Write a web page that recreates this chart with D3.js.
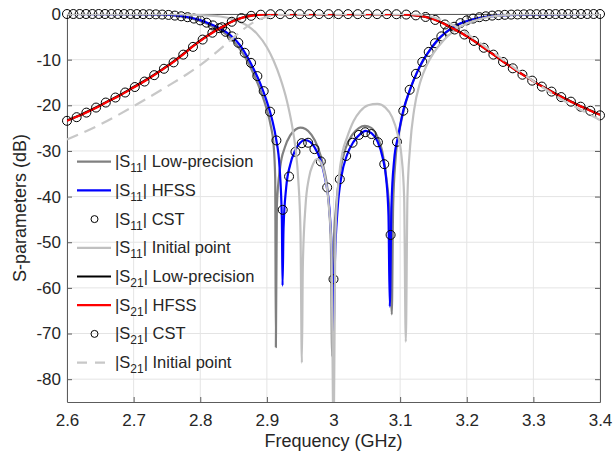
<!DOCTYPE html>
<html>
<head>
<meta charset="utf-8">
<script src="https://d3js.org/d3.v7.min.js"></script>
<style>
  body { margin: 0; background: #fff; }
  text { font-family: "Liberation Sans", Arial, Helvetica, sans-serif; fill: #262626; }
</style>
</head>
<body>
<div id="chart"></div>
<script>
/* S-parameter comparison, 2.6 - 3.4 GHz */

var xTicks = [2.6, 2.7, 2.8, 2.9, 3.0, 3.1, 3.2, 3.3, 3.4];
var yTicks = [0, -10, -20, -30, -40, -50, -60, -70, -80];

// |S11| curves as [GHz, dB]
var s11Low = [[2.6,0],[2.7,-0.03],[2.74,-0.1],[2.76,-0.3],[2.78,-0.75],[2.8,-1.55],[2.815,-2.5],[2.83,-3.6],
  [2.845,-5.2],[2.86,-7.8],[2.87,-10.1],[2.88,-13.1],[2.89,-16.6],[2.9,-21.0],[2.906,-24.6],[2.91,-28.5],
  [2.9125,-36],[2.9135,-73],[2.915,-42],[2.92,-33.5],[2.927,-29.2],[2.935,-26.6],[2.943,-25.3],[2.95,-24.9],
  [2.958,-25.2],[2.967,-26.5],[2.976,-29],[2.985,-33.5],[2.992,-40],[2.996,-50],[2.998,-75],[3.0,-52],
  [3.004,-42],[3.01,-34.5],[3.018,-29.5],[3.028,-26.5],[3.038,-25],[3.047,-24.5],[3.056,-24.9],[3.065,-26.6],
  [3.073,-30],[3.079,-35.5],[3.0845,-45],[3.0875,-65.8],[3.0895,-42],[3.093,-32],[3.099,-25.5],[3.107,-20.2],
  [3.117,-15.7],[3.127,-12.3],[3.137,-9.6],[3.147,-7.5],[3.162,-4.9],[3.177,-3.2],[3.192,-2.0],[3.21,-1.1],
  [3.23,-0.55],[3.26,-0.22],[3.3,-0.07],[3.4,0]];

var s11Hfss = [[2.6,0],[2.7,-0.02],[2.74,-0.08],[2.76,-0.25],[2.78,-0.65],[2.8,-1.35],[2.815,-2.2],[2.83,-3.2],
  [2.845,-4.6],[2.86,-6.9],[2.87,-9.2],[2.88,-12.0],[2.89,-15.2],[2.9,-19.2],[2.908,-23.2],[2.914,-27.5],
  [2.919,-33.5],[2.9225,-45],[2.9235,-59.5],[2.925,-47],[2.929,-38],[2.935,-33],[2.942,-30.0],[2.95,-28.2],
  [2.957,-27.6],[2.965,-28.0],[2.972,-29.3],[2.98,-31.8],[2.988,-36.5],[2.994,-43],[2.998,-55],[3.0,-72],
  [3.002,-55],[3.006,-43],[3.012,-35.5],[3.02,-31.0],[3.03,-28.0],[3.04,-26.3],[3.048,-25.6],[3.057,-26.1],
  [3.066,-27.9],[3.074,-31.6],[3.079,-36],[3.0825,-44],[3.0845,-64.1],[3.087,-42],[3.091,-32],[3.097,-26.8],
  [3.105,-21.0],[3.115,-16.5],[3.125,-12.9],[3.135,-10.0],[3.145,-7.8],[3.16,-5.1],[3.175,-3.3],[3.19,-2.1],
  [3.21,-1.15],[3.23,-0.6],[3.26,-0.25],[3.3,-0.08],[3.4,0]];

var s11Init = [[2.6,0],[2.75,-0.05],[2.8,-0.25],[2.83,-0.55],[2.845,-0.95],[2.87,-2.5],[2.885,-4.3],[2.9,-7.3],
  [2.91,-10.2],[2.92,-14],[2.93,-19],[2.937,-23.8],[2.943,-29.5],[2.947,-36],[2.9505,-48],[2.9525,-76.4],
  [2.954,-55],[2.958,-42],[2.963,-36],[2.969,-33],[2.975,-31.8],[2.981,-32.5],[2.987,-35.5],[2.993,-42],
  [2.997,-52],[3.0,-92],[3.003,-48],[3.008,-36],[3.014,-30],[3.02,-27.2],[3.03,-23.5],[3.04,-21.3],[3.052,-20.0],
  [3.066,-19.7],[3.078,-20.5],[3.088,-22.6],[3.096,-26.2],[3.102,-31],[3.106,-40],[3.1085,-71.8],[3.111,-40],
  [3.115,-29],[3.121,-21],[3.13,-15],[3.14,-11.2],[3.15,-8.6],[3.165,-5.8],[3.18,-3.8],[3.2,-2.1],[3.22,-1.1],
  [3.24,-0.5],[3.27,-0.15],[3.3,-0.05],[3.4,0]];

// |S11| CST samples
var s11CstFreq = [2.6000,2.6095,2.6190,2.6286,2.6381,2.6476,2.6571,2.6667,2.6762,2.6857,2.6952,2.7048,2.7143,
  2.7238,2.7333,2.7429,2.7524,2.7619,2.7714,2.7810,2.7905,2.8000,2.8095,2.8190,2.8286,2.8381,2.8476,2.8571,
  2.8667,2.8762,2.8857,2.8952,2.9048,2.9143,2.9238,2.9333,2.9429,2.9524,2.9619,2.9714,2.9810,2.9905,3.0000,
  3.0095,3.0190,3.0286,3.0381,3.0476,3.0571,3.0667,3.0762,3.0857,3.0952,3.1048,3.1143,3.1238,3.1333,3.1429,
  3.1524,3.1619,3.1714,3.1810,3.1905,3.2000,3.2095,3.2190,3.2286,3.2381,3.2476,3.2571,3.2667,3.2762,3.2857,
  3.2952,3.3048,3.3143,3.3238,3.3333,3.3429,3.3524,3.3619,3.3714,3.3810,3.3905,3.4000];
var s11CstDb = [0,0,0,0,0,0,0,0,0,-0.01,-0.01,-0.02,-0.03,-0.04,-0.07,-0.12,-0.2,-0.35,-0.5,-0.7,-1.0,-1.4,
  -1.9,-2.5,-3.1,-3.9,-4.9,-6.3,-8.5,-10.7,-13.6,-16.9,-21.4,-27.7,-42.9,-35.6,-30.2,-28.3,-28.2,-29.6,-32.3,
  -38.0,-58.1,-36.2,-31.1,-28.2,-26.5,-25.9,-26.3,-28.1,-32.9,-48.4,-28.0,-21.2,-16.6,-13.1,-10.5,-8.3,-6.4,
  -4.9,-3.7,-2.8,-2.0,-1.4,-1.0,-0.7,-0.5,-0.35,-0.25,-0.18,-0.13,-0.1,-0.07,-0.05,-0.04,-0.03,-0.02,-0.02,
  -0.01,-0.01,0,0,0,0,0];

// |S21| curves as [GHz, dB]
var s21Low = [[2.6,-23.3],[2.62,-22.1],[2.64,-20.7],[2.66,-19.2],[2.68,-17.7],[2.7,-16.0],[2.72,-14.3],
  [2.74,-12.4],[2.76,-10.4],[2.775,-8.7],[2.79,-6.9],[2.805,-5.3],[2.82,-3.85],[2.835,-2.6],[2.85,-1.5],
  [2.865,-0.72],[2.88,-0.28],[2.895,-0.1],[2.91,-0.04],[3.0,-0.03],[3.09,-0.04],[3.105,-0.1],[3.12,-0.24],
  [3.135,-0.53],[3.15,-1.1],[3.165,-2.05],[3.18,-3.2],[3.195,-4.4],[3.21,-5.8],[3.225,-7.3],[3.24,-8.85],
  [3.255,-10.45],[3.27,-11.9],[3.285,-13.35],[3.3,-14.7],[3.315,-16.0],[3.33,-17.2],[3.345,-18.35],
  [3.36,-19.4],[3.375,-20.45],[3.39,-21.4],[3.4,-22.05]];

var s21Hfss = [[2.6,-23.4],[2.62,-22.2],[2.64,-20.8],[2.66,-19.3],[2.68,-17.8],[2.7,-16.1],[2.72,-14.4],
  [2.74,-12.5],[2.76,-10.5],[2.775,-8.8],[2.79,-7.0],[2.805,-5.4],[2.82,-3.95],[2.835,-2.7],[2.85,-1.55],
  [2.865,-0.75],[2.88,-0.3],[2.895,-0.1],[2.91,-0.04],[3.0,-0.03],[3.09,-0.04],[3.105,-0.1],[3.12,-0.25],
  [3.135,-0.55],[3.15,-1.15],[3.165,-2.1],[3.18,-3.25],[3.195,-4.45],[3.21,-5.85],[3.225,-7.35],[3.24,-8.9],
  [3.255,-10.5],[3.27,-11.95],[3.285,-13.4],[3.3,-14.75],[3.315,-16.05],[3.33,-17.25],[3.345,-18.4],
  [3.36,-19.45],[3.375,-20.5],[3.39,-21.45],[3.4,-22.1]];

var s21Init = [[2.6,-27.5],[2.65,-24.2],[2.7,-20.2],[2.75,-15.9],[2.78,-13.2],[2.8,-11.2],[2.82,-8.9],
  [2.84,-6.4],[2.86,-3.9],[2.88,-1.8],[2.9,-0.6],[2.92,-0.15],[2.95,0],[3.1,0],[3.13,-0.15],[3.15,-0.7],
  [3.17,-1.8],[3.19,-3.2],[3.21,-5.3],[3.23,-7.4],[3.25,-9.5],[3.28,-12.7],[3.31,-15.7],[3.34,-18.5],
  [3.37,-20.9],[3.4,-23.2]];

// |S21| CST samples
var s21CstFreq = [2.6000,2.6145,2.6291,2.6436,2.6582,2.6727,2.6873,2.7018,2.7164,2.7309,2.7455,2.7600,2.7745,
  2.7891,2.8036,2.8182,2.8327,2.8473,2.8618,2.8764,2.8909,2.9055,2.9200,2.9345,2.9491,2.9636,2.9782,2.9927,
  3.0073,3.0218,3.0364,3.0509,3.0655,3.0800,3.0945,3.1091,3.1236,3.1382,3.1527,3.1673,3.1818,3.1964,3.2109,
  3.2255,3.2400,3.2545,3.2691,3.2836,3.2982,3.3127,3.3273,3.3418,3.3564,3.3709,3.3855,3.4000];
var s21CstDb = [-23.4,-22.6,-21.6,-20.5,-19.4,-18.3,-17.2,-16.0,-14.8,-13.4,-12.0,-10.6,-8.9,-7.2,-5.6,-4.1,
  -2.9,-1.7,-0.9,-0.4,-0.15,-0.05,-0.03,-0.03,-0.03,-0.03,-0.03,-0.03,-0.03,-0.03,-0.03,-0.03,-0.03,-0.03,
  -0.05,-0.12,-0.3,-0.65,-1.3,-2.3,-3.4,-4.5,-5.9,-7.4,-8.9,-10.5,-11.9,-13.3,-14.6,-15.9,-17.0,-18.2,-19.2,
  -20.3,-21.2,-22.2];

var legendLabels = ['Low-precision', 'HFSS', 'CST', 'Initial point', 'Low-precision', 'HFSS', 'CST', 'Initial point'];
var legendSubs = ['11', '11', '11', '11', '21', '21', '21', '21'];

;(function(d3){

    'use strict';

    var W = 614, H = 455;
    var left = 67, top = 14, right = 600, bottom = 402;

    var svg = d3.select('#chart').append('svg')
        .attr('width', W)
        .attr('height', H);

    var x = d3.scaleLinear().domain([2.6, 3.4]).range([left, right]);
    var y = d3.scaleLinear().domain([-85, 0]).range([bottom, top]);

    svg.append('defs').append('clipPath').attr('id', 'plotClip')
        .append('rect')
        .attr('x', left).attr('y', top)
        .attr('width', right - left).attr('height', bottom - top);

    // grid
    var grid = svg.append('g');
    grid.selectAll('line.gx').data(xTicks).enter().append('line')
        .attr('x1', function(d){ return x(d); }).attr('x2', function(d){ return x(d); })
        .attr('y1', top).attr('y2', bottom)
        .attr('stroke', '#e4e4e4').attr('stroke-width', 1);
    grid.selectAll('line.gy').data(yTicks).enter().append('line')
        .attr('y1', function(d){ return y(d); }).attr('y2', function(d){ return y(d); })
        .attr('x1', left).attr('x2', right)
        .attr('stroke', '#e4e4e4').attr('stroke-width', 1);

    // axes
    var xAxis = d3.axisBottom(x).tickValues(xTicks).tickSizeInner(-5).tickSizeOuter(0).tickPadding(12)
        .tickFormat(function(d){ return String(+d.toFixed(1)); });
    var yAxis = d3.axisLeft(y).tickValues(yTicks).tickSizeInner(-5).tickSizeOuter(0).tickPadding(6)
        .tickFormat(function(d){ return String(d); });

    svg.append('g').attr('transform', 'translate(0,' + bottom + ')').call(xAxis);
    svg.append('g').attr('transform', 'translate(' + left + ',0)').call(yAxis);
    svg.append('g').attr('transform', 'translate(0,' + top + ')')
        .call(d3.axisTop(x).tickValues(xTicks).tickSizeInner(-5).tickSizeOuter(0).tickFormat(''));
    svg.append('g').attr('transform', 'translate(' + right + ',0)')
        .call(d3.axisRight(y).tickValues(yTicks).tickSizeInner(-5).tickSizeOuter(0).tickFormat(''));

    svg.selectAll('.domain').attr('stroke', '#5c5c5c');
    svg.selectAll('.tick line').attr('stroke', '#5c5c5c');
    svg.selectAll('.tick text').attr('fill', '#262626')
        .style('font-size', '17px')
        .style('font-family', '"Liberation Sans", Arial, sans-serif');

    // axis labels
    svg.append('text')
        .attr('x', (left + right) / 2).attr('y', 447)
        .attr('text-anchor', 'middle')
        .style('font-size', '18px')
        .text('Frequency (GHz)');
    svg.append('text')
        .attr('transform', 'translate(26,' + ((top + bottom) / 2) + ') rotate(-90)')
        .attr('text-anchor', 'middle')
        .style('font-size', '18px')
        .text('S-parameters (dB)');

    var line = d3.line()
        .x(function(d){ return x(d[0]); })
        .y(function(d){ return y(d[1]); })
        .curve(d3.curveMonotoneX);

    var plot = svg.append('g');

    function drawLine(data, color, dash){
        plot.append('g').attr('clip-path', 'url(#plotClip)')
            .append('path').datum(data)
            .attr('d', line)
            .attr('fill', 'none')
            .attr('stroke', color)
            .attr('stroke-width', 2.2)
            .attr('stroke-dasharray', dash || null)
            .attr('stroke-linejoin', 'round');
    }

    function drawCircles(fs, dbs){
        plot.append('g').selectAll(null).data(fs).enter().append('circle')
            .attr('cx', function(d){ return x(d); })
            .attr('cy', function(d, i){ return y(dbs[i]); })
            .attr('r', 4.5)
            .attr('fill', 'none')
            .attr('stroke', '#000')
            .attr('stroke-width', 1);
    }

    // same order as the legend
    drawLine(s11Low, '#808080');
    drawLine(s11Hfss, '#0000ff');
    drawCircles(s11CstFreq, s11CstDb);
    drawLine(s11Init, '#c0c0c0');
    drawLine(s21Low, '#000000');
    drawLine(s21Hfss, '#ff0000');
    drawCircles(s21CstFreq, s21CstDb);
    drawLine(s21Init, '#c8c8c8', '12,7');

    // legend
    var legendStyles = [
        {color: '#808080'}, {color: '#0000ff'}, {marker: true}, {color: '#c0c0c0'},
        {color: '#000000'}, {color: '#ff0000'}, {marker: true}, {color: '#c8c8c8', dash: '10,8'}
    ];
    var rowY0 = 161.7, rowStep = 28.7;
    var legend = svg.append('g');

    legendLabels.forEach(function(label, i){
        var ry = rowY0 + i * rowStep;
        var st = legendStyles[i];
        if (st.marker) {
            legend.append('circle').attr('cx', 94.5).attr('cy', ry).attr('r', 3.5)
                .attr('fill', 'none').attr('stroke', '#000').attr('stroke-width', 1);
        } else {
            legend.append('line').attr('x1', 77).attr('x2', 111).attr('y1', ry).attr('y2', ry)
                .attr('stroke', st.color).attr('stroke-width', 2.2)
                .attr('stroke-dasharray', st.dash || null);
        }
        var t = legend.append('text').attr('x', 115).attr('y', ry + 5.5).style('font-size', '16.5px');
        t.append('tspan').text('|S');
        t.append('tspan').attr('dy', 5).style('font-size', '12px').text(legendSubs[i]);
        t.append('tspan').attr('dy', -5).text('| ' + label);
    });

}(window.d3));
</script>
</body>
</html>
